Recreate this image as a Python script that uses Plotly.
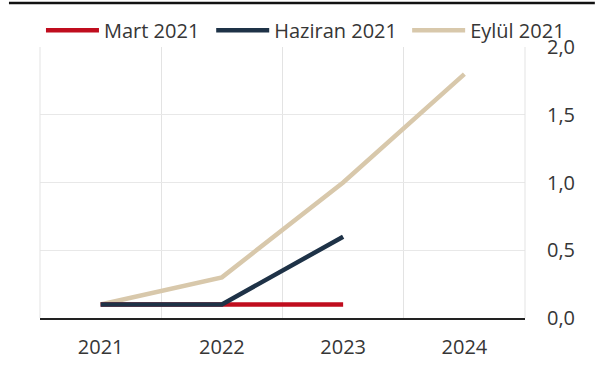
import plotly.graph_objects as go

years = ["2021", "2022", "2023", "2024"]
mart_2021 = [0.1, 0.1, 0.1]
haziran_2021 = [0.1, 0.1, 0.6]
eylul_2021 = [0.1, 0.3, 1.0, 1.8]
y_ticks = [0.0, 0.5, 1.0, 1.5, 2.0]
y_ticktext = ["0,0", "0,5", "1,0", "1,5", "2,0"]

RED = "#c00d1e"
NAVY = "#1e3247"
BEIGE = "#d8c8ab"
TXT = "#363636"
FS = 20

fig = go.Figure()
# draw order: beige at bottom, then red, navy on top (navy hides red from 2021 to 2022)
fig.add_trace(go.Scatter(x=years, y=eylul_2021, name="Eylül 2021", mode="lines",
                         line=dict(color=BEIGE, width=4.5), legend="legend3"))
fig.add_trace(go.Scatter(x=years[:3], y=mart_2021, name="Mart 2021", mode="lines",
                         line=dict(color=RED, width=4.5), legend="legend"))
fig.add_trace(go.Scatter(x=years[:3], y=haziran_2021, name="Haziran 2021", mode="lines",
                         line=dict(color=NAVY, width=4.5), legend="legend2"))

leg_common = dict(orientation="h", xanchor="left", y=1.062, yanchor="middle",
                  itemwidth=53, font=dict(size=FS, color=TXT),
                  bgcolor="rgba(0,0,0,0)")

fig.update_layout(
    width=601, height=365,
    margin=dict(l=40, r=76, t=47, b=47, autoexpand=False),
    paper_bgcolor="white", plot_bgcolor="white",
    font=dict(family="Open Sans", size=FS, color=TXT),
    showlegend=True,
    legend=dict(x=0.002, **leg_common),
    legend2=dict(x=0.353, **leg_common),
    legend3=dict(x=0.757, **leg_common),
    xaxis=dict(type="category", range=[-0.5, 3.5], tickson="boundaries",
               showgrid=True, gridcolor="#e3e3e3", gridwidth=1, automargin=False,
               showline=True, linecolor="#222222", linewidth=1.5,
               ticks="", ticklabelstandoff=10, tickfont=dict(size=FS, color=TXT),
               fixedrange=True),
    yaxis=dict(side="right", range=[0, 2.0], tickvals=y_ticks, ticktext=y_ticktext,
               showgrid=True, gridcolor="#e8e8e8", gridwidth=1, zeroline=False,
               automargin=False, ticks="", ticklabelstandoff=21,
               tickfont=dict(size=FS, color=TXT), fixedrange=True),
    shapes=[dict(type="line", xref="paper", yref="paper", x0=-0.064, x1=1.144, y0=1.162, y1=1.162,
                 line=dict(color="#111111", width=2.5)),
            dict(type="line", xref="paper", yref="paper", x0=1, x1=1, y0=0, y1=1,
                 line=dict(color="#e3e3e3", width=1)),
            dict(type="line", xref="paper", yref="paper", x0=0, x1=0, y0=0, y1=1,
                 line=dict(color="#e3e3e3", width=1))],
)

fig.write_html("out.html", config={"displayModeBar": False},
               post_script="document.body.style.margin='0px';")
